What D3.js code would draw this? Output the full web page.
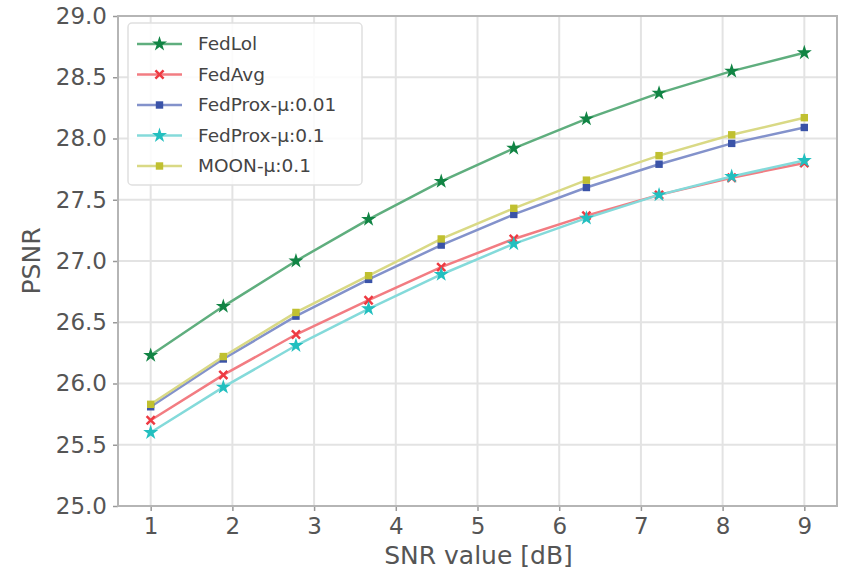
<!DOCTYPE html>
<html><head><meta charset="utf-8">
<script src="https://cdn.jsdelivr.net/npm/d3@7"></script>
<style>body{margin:0;background:#fff}svg{display:block}</style>
</head><body>
<svg id="c" width="842" height="571"></svg>
<script>
const snr = [1, 1.889, 2.778, 3.667, 4.556, 5.444, 6.333, 7.222, 8.111, 9];
const fedLol   = [26.23, 26.63, 27.00, 27.34, 27.65, 27.92, 28.16, 28.37, 28.55, 28.70];
const fedAvg   = [25.70, 26.07, 26.40, 26.68, 26.95, 27.18, 27.37, 27.54, 27.68, 27.80];
const fedProx001 = [25.81, 26.20, 26.55, 26.85, 27.13, 27.38, 27.60, 27.79, 27.96, 28.09];
const fedProx01  = [25.60, 25.97, 26.31, 26.61, 26.89, 27.14, 27.35, 27.54, 27.69, 27.82];
const moon     = [25.83, 26.22, 26.58, 26.88, 27.18, 27.43, 27.66, 27.86, 28.03, 28.17];
const seriesNames = ["FedLol", "FedAvg", "FedProx-\u03bc:0.01", "FedProx-\u03bc:0.1", "MOON-\u03bc:0.1"];
const xTicks = [1,2,3,4,5,6,7,8,9];
const yTicks = [25.0,25.5,26.0,26.5,27.0,27.5,28.0,28.5,29.0];

const series = [
  {name: seriesNames[0], values: fedLol, line:"#5fae7e", mark:"#118444", shape:"star"},
  {name: seriesNames[1], values: fedAvg, line:"#f27c82", mark:"#ee3a42", shape:"x"},
  {name: seriesNames[2], values: fedProx001, line:"#8392cb", mark:"#3a53a8", shape:"square"},
  {name: seriesNames[3], values: fedProx01, line:"#84dada", mark:"#22bfbf", shape:"star"},
  {name: seriesNames[4], values: moon, line:"#d9d985", mark:"#c0c030", shape:"square"},
];

const svg = d3.select("#c");
const L=118, R=837, T=16, B=506;
const x = d3.scaleLinear().domain([0.6, 9.4]).range([L, R]);
const y = d3.scaleLinear().domain([25, 29]).range([B, T]);
const font = "DejaVu Sans, sans-serif";

// grid
const g = svg.append("g");
g.selectAll(".gx").data(xTicks).join("line")
  .attr("x1", d=>x(d)).attr("x2", d=>x(d)).attr("y1", T).attr("y2", B)
  .attr("stroke", "#e3e3e3").attr("stroke-width", 2);
g.selectAll(".gy").data(yTicks).join("line")
  .attr("y1", d=>y(d)).attr("y2", d=>y(d)).attr("x1", L).attr("x2", R)
  .attr("stroke", "#e3e3e3").attr("stroke-width", 2);

// axes
const xAxis = d3.axisBottom(x).tickValues(xTicks).tickSize(5).tickPadding(5).tickFormat(d3.format("d"));
const yAxis = d3.axisLeft(y).tickValues(yTicks).tickSize(5).tickPadding(6).tickFormat(d3.format(".1f"));
const gx = svg.append("g").attr("transform", `translate(0,${B})`).call(xAxis);
const gy = svg.append("g").attr("transform", `translate(${L},0)`).call(yAxis);
[gx, gy].forEach(a => {
  a.select(".domain").remove();
  a.selectAll(".tick line").attr("stroke", "#999").attr("stroke-width", 1.5);
  a.selectAll(".tick text").attr("fill", "#555").style("font-family", font).style("font-size", "23px");
});
gx.selectAll(".tick text").attr("dy", "0.78em");

// frame
svg.append("rect").attr("x", L).attr("y", T).attr("width", R-L).attr("height", B-T)
  .attr("fill", "none").attr("stroke", "#b5b5b5").attr("stroke-width", 2);

// lines
const line = d3.line().x((d,i)=>x(snr[i])).y(d=>y(d));
const symMap = {star: d3.symbolStar, square: d3.symbolSquare, x: d3.symbolTimes};
const sizeMap = {star: 70, square: 55, x: 45};

function drawMarker(sel, s, px, py) {
  const sym = d3.symbol().type(symMap[s.shape]).size(sizeMap[s.shape]);
  const p = sel.append("path").attr("d", sym()).attr("transform", `translate(${px},${py})`);
  if (s.shape === "x") p.attr("fill", "none").attr("stroke", s.mark).attr("stroke-width", 2.5);
  else p.attr("fill", s.mark);
}

series.forEach(s => {
  svg.append("path").datum(s.values).attr("d", line).attr("fill", "none")
    .attr("stroke", s.line).attr("stroke-width", 2.5);
  const mg = svg.append("g");
  s.values.forEach((v,i) => drawMarker(mg, s, x(snr[i]), y(v)));
});

// legend
const lg = svg.append("g");
lg.append("rect").attr("x", 128).attr("y", 23).attr("width", 234).attr("height", 162)
  .attr("rx", 4).attr("fill", "#fff").attr("fill-opacity", 0.85).attr("stroke", "#e0e0e0").attr("stroke-width", 1.5);
series.forEach((s,i) => {
  const yy = 44 + i*30.5;
  lg.append("line").attr("x1", 137).attr("x2", 182).attr("y1", yy).attr("y2", yy)
    .attr("stroke", s.line).attr("stroke-width", 2.5);
  drawMarker(lg, s, 159.5, yy);
  lg.append("text").attr("x", 198).attr("y", yy).attr("dy", "0.35em").text(s.name)
    .attr("fill", "#444").style("font-family", font).style("font-size", "18.5px");
});

// axis labels
svg.append("text").attr("x", (L+R)/2 + 1).attr("y", 564).attr("text-anchor", "middle")
  .text("SNR value [dB]").attr("fill", "#555").style("font-family", font).style("font-size", "25px");
svg.append("text").attr("transform", `translate(40,${(T+B)/2}) rotate(-90)`).attr("text-anchor", "middle")
  .text("PSNR").attr("fill", "#555").style("font-family", font).style("font-size", "25px");
</script>
</body></html>
